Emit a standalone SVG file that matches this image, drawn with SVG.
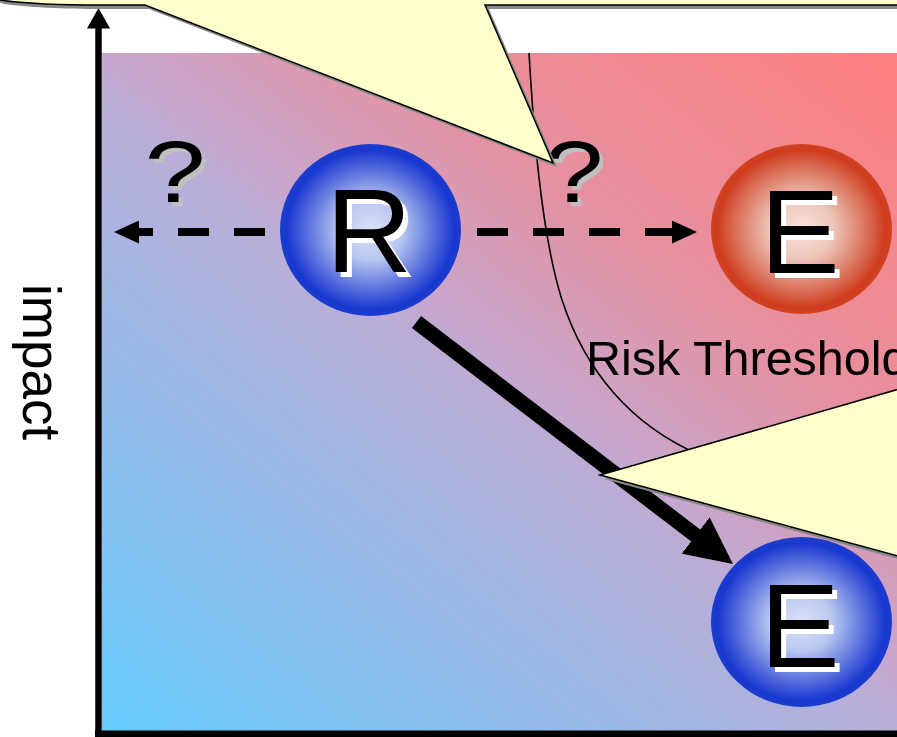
<svg xmlns="http://www.w3.org/2000/svg" width="897" height="737" viewBox="0 0 897 737">
  <defs>
    <style>
      .lbl { font-family: "Liberation Sans", Arial, sans-serif; }
      .letter { font-family: "Liberation Sans", Arial, sans-serif; font-size: 119px; text-anchor: middle; }
      .q { font-family: "Liberation Sans", Arial, sans-serif; font-size: 88px; text-anchor: middle; }
      .callout { fill: #FFFFCC; stroke: #000; stroke-width: 1.5; stroke-linejoin: miter; }
      .shadow { fill: #888888; }
      .dash { stroke: #000; stroke-width: 8; stroke-dasharray: 31 25; fill: none; }
    </style>
    <!-- field shading: cool/low risk at bottom-left, hot/high risk at top-right -->
    <linearGradient id="field" gradientUnits="userSpaceOnUse" x1="102" y1="731" x2="733" y2="-76">
      <stop offset="0" stop-color="#66CCFF"/>
      <stop offset="0.48" stop-color="#B8AED8"/>
      <stop offset="0.53" stop-color="#C8A6CC"/>
      <stop offset="0.7" stop-color="#E6909F"/>
      <stop offset="1" stop-color="#FF7F7F"/>
    </linearGradient>
    <radialGradient id="blueBall" cx="50%" cy="50%" r="50%">
      <stop offset="0" stop-color="#DCE4F8"/>
      <stop offset="0.35" stop-color="#B8C6F0"/>
      <stop offset="0.75" stop-color="#4A62DA"/>
      <stop offset="0.93" stop-color="#1838D0"/>
      <stop offset="1" stop-color="#1C3CCC"/>
    </radialGradient>
    <radialGradient id="redBall" cx="50%" cy="50%" r="50%">
      <stop offset="0" stop-color="#F8E4DC"/>
      <stop offset="0.35" stop-color="#EEC6BA"/>
      <stop offset="0.75" stop-color="#D86A52"/>
      <stop offset="0.93" stop-color="#D03C1E"/>
      <stop offset="1" stop-color="#D04222"/>
    </radialGradient>
    <marker id="headSmall" markerUnits="userSpaceOnUse" viewBox="0 0 25 23" markerWidth="25" markerHeight="23" refX="25" refY="11.5" orient="auto">
      <path d="M0,0 L25,11.5 L0,23 Z" fill="#000"/>
    </marker>
    <marker id="headBig" markerUnits="userSpaceOnUse" viewBox="0 0 47 46" markerWidth="47" markerHeight="46" refX="11.8" refY="23" orient="auto">
      <path d="M0,0 L47,23 L0,46 Z" fill="#000"/>
    </marker>
  </defs>

  <rect x="0" y="0" width="897" height="737" fill="#FFFFFF"/>

  <!-- risk field -->
  <rect id="field-area" x="102" y="53" width="800" height="678" fill="url(#field)"/>

  <!-- risk threshold curve and label -->
  <g id="threshold">
    <path d="M529,53 C533,120 540,230 562,300 C585,370 630,425 700,455 L730,468" fill="none" stroke="#000" stroke-width="1.6"/>
    <text class="lbl" x="586" y="375" font-size="48.5">Risk Threshold</text>
  </g>

  <!-- axes -->
  <g id="axes">
    <line x1="98.5" y1="731" x2="98.5" y2="26" stroke="#000" stroke-width="6.5"/>
    <path d="M98.5,8 L110,28.5 L87,28.5 Z" fill="#000"/>
    <line x1="95" y1="734" x2="900" y2="734" stroke="#000" stroke-width="7"/>
    <text class="lbl" font-size="53" transform="translate(23,284) rotate(90)">impact</text>
  </g>

  <!-- question marks -->
  <g id="q-left" transform="translate(175,202) scale(1.25,1)">
    <text class="q" x="3.2" y="4" fill="#C0C0C0">?</text>
    <text class="q" x="0" y="0" fill="#000">?</text>
  </g>
  <g id="q-right" transform="translate(574,202) scale(1.2,1)">
    <text class="q" x="3.3" y="4" fill="#C0C0C0">?</text>
    <text class="q" x="0" y="0" fill="#000">?</text>
  </g>

  <!-- connectors -->
  <g id="connectors">
    <line class="dash" x1="265" y1="232" x2="114" y2="232" marker-end="url(#headSmall)"/>
    <line class="dash" x1="477" y1="232" x2="697" y2="232" marker-end="url(#headSmall)"/>
    <line x1="416.5" y1="322" x2="705" y2="542.6" stroke="#000" stroke-width="15" marker-end="url(#headBig)"/>
  </g>

  <!-- nodes -->
  <g id="node-R">
    <ellipse cx="370.5" cy="230" rx="90.5" ry="86" fill="url(#blueBall)"/>
    <text class="letter" x="374" y="277" fill="#FFFFFF">R</text>
    <text class="letter" x="369" y="272" fill="#000">R</text>
  </g>
  <g id="node-E-high">
    <ellipse cx="801.5" cy="229" rx="90.5" ry="85" fill="url(#redBall)"/>
    <text class="letter" x="805" y="278" fill="#FFFFFF">E</text>
    <text class="letter" x="800" y="273" fill="#000">E</text>
  </g>
  <g id="node-E-low">
    <ellipse cx="801.5" cy="622" rx="90.5" ry="85" fill="url(#blueBall)"/>
    <text class="letter" x="805" y="672" fill="#FFFFFF" font-size="120">E</text>
    <text class="letter" x="800" y="667" fill="#000" font-size="120">E</text>
  </g>

  <!-- callouts -->
  <g id="callout-top">
    <path class="shadow" transform="translate(4,4)" d="M-10,-40 L910,-40 L910,5 L485,5 L553,163 L145,5 L100,5 C60,5 20,3 0,0 L-10,-4 Z"/>
    <path class="callout" d="M-10,-40 L910,-40 L910,5 L485,5 L553,163 L145,5 L100,5 C60,5 20,3 0,0 L-10,-4 Z"/>
  </g>
  <g id="callout-right">
    <path class="shadow" transform="translate(4,4)" d="M600,475 L920,383 L920,562 Z"/>
    <path class="callout" d="M600,475 L920,383 L920,562 Z"/>
  </g>
</svg>
